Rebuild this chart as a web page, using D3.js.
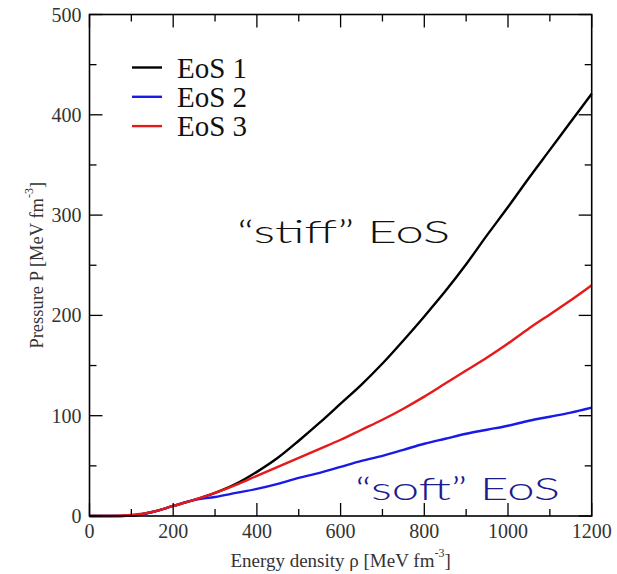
<!DOCTYPE html>
<html>
<head>
<meta charset="utf-8">
<script src="https://cdn.jsdelivr.net/npm/d3@7"></script>
<style>
  html, body { margin: 0; padding: 0; background: #fff; }
  svg { display: block; }
  .serif { font-family: "Liberation Serif", "Times New Roman", Times, serif; }
</style>
</head>
<body>
<svg id="chart" width="617" height="574"></svg>
<script>
// Energy density grid [MeV fm^-3]
const energyDensity = [0, 50, 100, 150, 200, 250, 300, 350, 400, 450, 500, 550, 600,
                       650, 700, 750, 800, 850, 900, 950, 1000, 1050, 1100, 1150, 1200];
// Pressure [MeV fm^-3] for each equation of state
const eos1 = [0, 0, 0.5, 4, 10, 16, 23, 32, 44, 58, 75, 93, 112,
              131, 152, 175, 199, 224, 251, 280, 308, 337, 365, 393, 421];
const eos2 = [0, 0, 0.5, 4, 10, 16, 19, 23, 27, 32, 38, 43, 49,
              55, 60, 66, 72, 77, 82, 86, 90, 95, 99, 103, 108];
const eos3 = [0, 0, 1, 4, 10, 16, 23, 31, 40, 49, 58, 67, 76,
              86, 96, 107, 119, 132, 145, 158, 172, 187, 201, 215, 230];

const seriesNames = ["EoS 1", "EoS 2", "EoS 3"];
const seriesColors = ["#000000", "#1a1ae6", "#e61a1a"];
const seriesValues = [eos1, eos2, eos3];

const xTicks = [0, 200, 400, 600, 800, 1000, 1200];
const yTicks = [0, 100, 200, 300, 400, 500];

const margin = { left: 89.5, right: 25.3, top: 14.5, bottom: 58 };
const W = 617, H = 574;
const svg = d3.select("#chart");

const x = d3.scaleLinear().domain([0, 1200]).range([margin.left, W - margin.right]);
const y = d3.scaleLinear().domain([0, 500]).range([H - margin.bottom, margin.top]);

const x0 = x(0), x1 = x(1200), y0 = y(0), y1 = y(500);

// Curves
const line = d3.line().x(d => x(d[0])).y(d => y(d[1])).curve(d3.curveMonotoneX);
seriesValues.forEach((vals, i) => {
  const pts = energyDensity.map((e, k) => [e, vals[k]]);
  svg.append("path")
    .datum(pts)
    .attr("d", line)
    .attr("fill", "none")
    .attr("stroke", seriesColors[i])
    .attr("stroke-width", 2.4)
    .attr("stroke-linejoin", "round");
});

// Frame
svg.append("rect")
  .attr("x", x0).attr("y", y1)
  .attr("width", x1 - x0).attr("height", y0 - y1)
  .attr("fill", "none").attr("stroke", "#000").attr("stroke-width", 1.6);

// Inward ticks on all four sides
const major = 13, minor = 7;
const tickG = svg.append("g").attr("stroke", "#000").attr("stroke-width", 1.3);
d3.range(0, 1201, 100).forEach(v => {
  const len = v % 200 === 0 ? major : minor;
  tickG.append("line").attr("x1", x(v)).attr("x2", x(v)).attr("y1", y0).attr("y2", y0 - len);
  tickG.append("line").attr("x1", x(v)).attr("x2", x(v)).attr("y1", y1).attr("y2", y1 + len);
});
d3.range(0, 501, 50).forEach(v => {
  const len = v % 100 === 0 ? major : minor;
  tickG.append("line").attr("x1", x0).attr("x2", x0 + len).attr("y1", y(v)).attr("y2", y(v));
  tickG.append("line").attr("x1", x1).attr("x2", x1 - len).attr("y1", y(v)).attr("y2", y(v));
});

// Tick labels
svg.append("g").selectAll("text").data(xTicks).join("text")
  .attr("class", "serif")
  .attr("x", d => x(d)).attr("y", y0 + 22)
  .attr("text-anchor", "middle")
  .attr("font-size", 20).attr("fill", "#333")
  .text(d => d);
svg.append("g").selectAll("text").data(yTicks).join("text")
  .attr("class", "serif")
  .attr("x", x0 - 8).attr("y", d => y(d) + 7)
  .attr("text-anchor", "end")
  .attr("font-size", 20).attr("fill", "#333")
  .text(d => d);

// Axis titles
const xt = svg.append("text")
  .attr("class", "serif")
  .attr("x", (x0 + x1) / 2).attr("y", 567)
  .attr("text-anchor", "middle")
  .attr("font-size", 19).attr("fill", "#333");
xt.append("tspan").text("Energy density ρ [MeV fm");
xt.append("tspan").attr("dy", -10).attr("font-size", 12).text("-3");
xt.append("tspan").attr("dy", 10).text("]");

const yt = svg.append("text")
  .attr("class", "serif")
  .attr("transform", `translate(43,${(y0 + y1) / 2}) rotate(-90)`)
  .attr("text-anchor", "middle")
  .attr("font-size", 18.5).attr("fill", "#333");
yt.append("tspan").text("Pressure P [MeV fm");
yt.append("tspan").attr("dy", -10).attr("font-size", 12).text("-3");
yt.append("tspan").attr("dy", 10).text("]");

// Legend
const legend = svg.append("g");
seriesNames.forEach((name, i) => {
  const ly = 67.5 + i * 29.3;
  legend.append("line")
    .attr("x1", 132).attr("x2", 162).attr("y1", ly).attr("y2", ly)
    .attr("stroke", seriesColors[i]).attr("stroke-width", 2.4);
  legend.append("text")
    .attr("class", "serif")
    .attr("x", 177).attr("y", ly + 10)
    .attr("font-size", 29).attr("fill", "#111")
    .text(name);
});

// Annotations
const hand = "'Lato', 'Open Sans', sans-serif";
svg.append("text")
  .attr("x", 237).attr("y", 243)
  .attr("font-family", hand).attr("font-weight", 300).attr("font-size", 31)
  .attr("fill", "#111")
  .attr("textLength", 213).attr("lengthAdjust", "spacingAndGlyphs")
  .text("“stiff” EoS");
svg.append("text")
  .attr("x", 355).attr("y", 500)
  .attr("font-family", hand).attr("font-weight", 300).attr("font-size", 31)
  .attr("fill", "#1c1c8e")
  .attr("textLength", 205).attr("lengthAdjust", "spacingAndGlyphs")
  .text("“soft” EoS");
</script>
</body>
</html>
